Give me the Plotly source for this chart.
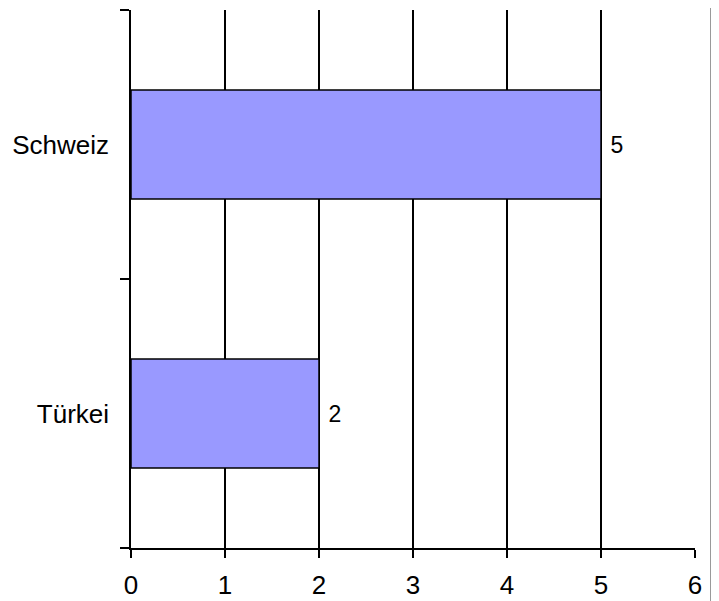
import plotly.graph_objects as go

categories = ["Türkei", "Schweiz"]
values = [2, 5]
x_ticks = [0, 1, 2, 3, 4, 5, 6]

fig = go.Figure()
fig.add_trace(go.Bar(
    y=categories, x=values, orientation="h",
    marker=dict(color="#9999FF", line=dict(color="black", width=1.5)),
    text=["\u00a0" + str(v) for v in values], textposition="outside",
    textfont=dict(family="Liberation Sans, Arial", size=23, color="black"),
    cliponaxis=False, width=0.405,
))

fig.update_layout(
    width=711, height=593,
    margin=dict(l=123, r=24, t=2, b=53),
    paper_bgcolor="white", plot_bgcolor="white",
    showlegend=False,
    font=dict(family="Liberation Sans, Arial", color="black"),
    xaxis=dict(
        range=[0, 6], tickvals=x_ticks, ticktext=[str(t) for t in x_ticks],
        showgrid=True, gridcolor="black", gridwidth=1.5,
        showline=True, linecolor="black", linewidth=1.5,
        ticks="outside", ticklen=8, tickwidth=1.5, tickcolor="black",
        tickfont=dict(size=26), ticklabelstandoff=5,
        zeroline=False, fixedrange=True,
    ),
    yaxis=dict(
        type="category", categoryorder="array", categoryarray=categories,
        range=[-0.5, 1.5],
        showline=True, linecolor="black", linewidth=1.5,
        ticks="outside", ticklen=9, tickwidth=1.5, tickcolor="black",
        tickson="boundaries", showgrid=False,
        tickfont=dict(size=26), ticklabelstandoff=15, fixedrange=True,
    ),
    shapes=[dict(type="line", xref="paper", yref="paper", x0=1.029, x1=1.029,
                 y0=-0.12, y1=1.02, layer="above",
                 line=dict(color="black", width=1.5))],
)

fig.write_html("out.html")
